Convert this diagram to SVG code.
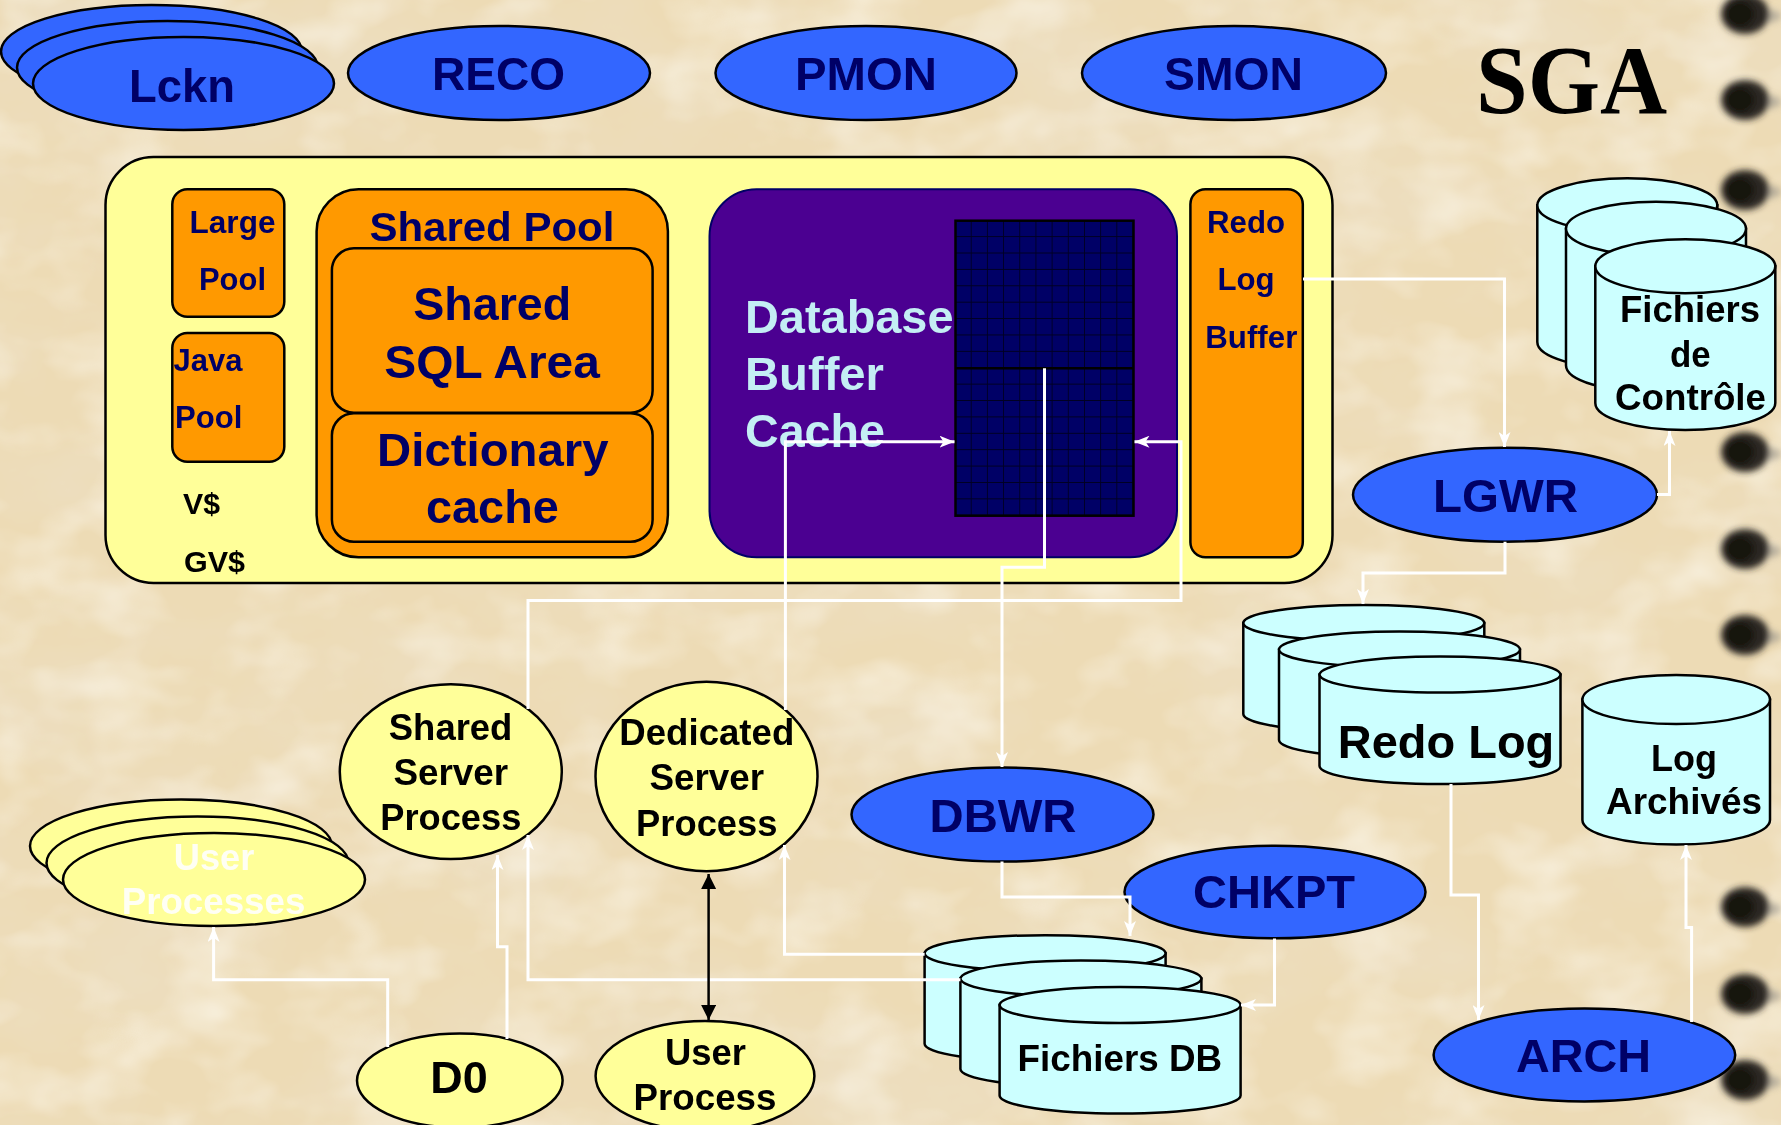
<svg xmlns="http://www.w3.org/2000/svg" width="1781" height="1125" viewBox="0 0 1781 1125">
  <defs>
    <style>
      .proc { fill: #3366ff; stroke: #000; stroke-width: 2.5; }
      .yel  { fill: #ffff99; stroke: #000; stroke-width: 2.5; }
      .org  { fill: #ff9900; stroke: #000; stroke-width: 2.5; }
      .cyl  { fill: #ccffff; stroke: #000; stroke-width: 2.5; }
      .t    { font-family: "Liberation Sans", Arial, sans-serif; font-weight: bold; }
      .ptxt { font-size: 47px; fill: #000066; text-anchor: middle; }
      .navy { fill: #000066; }
      .blk  { fill: #000; }
      .mid  { text-anchor: middle; }
      .wire { fill: none; stroke: #fff; stroke-width: 3; marker-end: url(#wa); }
      .hole { fill: #2c2824; }
      .core { fill: #141210; }
      .streak { fill: #9a948c; opacity: 0.6; }
    </style>
    <marker id="wa" viewBox="0 0 15 12" refX="15" refY="6" markerWidth="15" markerHeight="12" markerUnits="userSpaceOnUse" orient="auto">
      <path d="M0,0 L15,6 L0,12 L4,6 Z" fill="#fff"/>
    </marker>
    <marker id="ba" viewBox="0 0 15 15" refX="15" refY="7.5" markerWidth="15" markerHeight="15" markerUnits="userSpaceOnUse" orient="auto-start-reverse">
      <path d="M0,0 L15,7.5 L0,15 Z" fill="#000"/>
    </marker>
    <pattern id="cells" x="955.5" y="220.7" width="16.18" height="16.39" patternUnits="userSpaceOnUse">
      <rect width="16.18" height="16.39" fill="#000066"/>
      <path d="M16.18,0 V16.39 M0,16.39 H16.18" stroke="#000022" stroke-width="1.8" fill="none"/>
    </pattern>
    <filter id="paper" x="0" y="0" width="1781" height="1125" filterUnits="userSpaceOnUse">
      <feTurbulence type="fractalNoise" baseFrequency="0.005 0.008" numOctaves="5" seed="5" result="n"/>
      <feColorMatrix in="n" type="matrix" values="0 0 0 0 0.85  0 0 0 0 0.75  0 0 0 0 0.58  1.3 0 0 0 -0.52"/>
    </filter>
    <filter id="light" x="0" y="0" width="1781" height="1125" filterUnits="userSpaceOnUse">
      <feTurbulence type="fractalNoise" baseFrequency="0.012 0.018" numOctaves="3" seed="19" result="g"/>
      <feColorMatrix in="g" type="matrix" values="0 0 0 0 0.98  0 0 0 0 0.95  0 0 0 0 0.87  0 1.3 0 0 -0.58"/>
    </filter>
    <filter id="soft" x="-50%" y="-50%" width="200%" height="200%">
      <feGaussianBlur stdDeviation="3"/>
    </filter>
  </defs>

  <!-- parchment background -->
  <rect width="1781" height="1125" fill="#eddbb5"/>
  <rect width="1781" height="1125" filter="url(#paper)"/>
  <rect width="1781" height="1125" filter="url(#light)"/>

  <!-- binder holes along the right edge -->
  <g id="binder" filter="url(#soft)">
    <g transform="translate(0,14)"><ellipse class="streak" cx="1765" cy="2" rx="16" ry="7"/><ellipse class="hole" cx="1745" cy="0" rx="24" ry="20"/><ellipse class="core" cx="1740" cy="0" rx="14" ry="13"/></g>
    <g transform="translate(0,100)"><ellipse class="streak" cx="1765" cy="2" rx="16" ry="7"/><ellipse class="hole" cx="1745" cy="0" rx="24" ry="20"/><ellipse class="core" cx="1740" cy="0" rx="14" ry="13"/></g>
    <g transform="translate(0,190)"><ellipse class="streak" cx="1765" cy="2" rx="16" ry="7"/><ellipse class="hole" cx="1745" cy="0" rx="24" ry="20"/><ellipse class="core" cx="1740" cy="0" rx="14" ry="13"/></g>
    <g transform="translate(0,452)"><ellipse class="streak" cx="1765" cy="2" rx="16" ry="7"/><ellipse class="hole" cx="1745" cy="0" rx="24" ry="20"/><ellipse class="core" cx="1740" cy="0" rx="14" ry="13"/></g>
    <g transform="translate(0,549)"><ellipse class="streak" cx="1765" cy="2" rx="16" ry="7"/><ellipse class="hole" cx="1745" cy="0" rx="24" ry="20"/><ellipse class="core" cx="1740" cy="0" rx="14" ry="13"/></g>
    <g transform="translate(0,635)"><ellipse class="streak" cx="1765" cy="2" rx="16" ry="7"/><ellipse class="hole" cx="1745" cy="0" rx="24" ry="20"/><ellipse class="core" cx="1740" cy="0" rx="14" ry="13"/></g>
    <g transform="translate(0,907)"><ellipse class="streak" cx="1765" cy="2" rx="16" ry="7"/><ellipse class="hole" cx="1745" cy="0" rx="24" ry="20"/><ellipse class="core" cx="1740" cy="0" rx="14" ry="13"/></g>
    <g transform="translate(0,994)"><ellipse class="streak" cx="1765" cy="2" rx="16" ry="7"/><ellipse class="hole" cx="1745" cy="0" rx="24" ry="20"/><ellipse class="core" cx="1740" cy="0" rx="14" ry="13"/></g>
    <g transform="translate(0,1080)"><ellipse class="streak" cx="1765" cy="2" rx="16" ry="7"/><ellipse class="hole" cx="1745" cy="0" rx="24" ry="20"/><ellipse class="core" cx="1740" cy="0" rx="14" ry="13"/></g>
  </g>

  <!-- background processes -->
  <g id="lckn">
    <ellipse class="proc" cx="151.5" cy="51.5" rx="150.5" ry="46.5"/>
    <ellipse class="proc" cx="167.5" cy="67.5" rx="150.5" ry="46.5"/>
    <ellipse class="proc" cx="183.5" cy="83.5" rx="150.5" ry="46.5"/>
    <text class="t ptxt" x="182" y="102" textLength="106" lengthAdjust="spacingAndGlyphs">Lckn</text>
  </g>
  <g id="reco">
    <ellipse class="proc" cx="499" cy="73" rx="151" ry="47"/>
    <text class="t ptxt" x="498.5" y="90" textLength="133" lengthAdjust="spacingAndGlyphs">RECO</text>
  </g>
  <g id="pmon">
    <ellipse class="proc" cx="866" cy="73" rx="150.5" ry="47"/>
    <text class="t ptxt" x="866" y="90" textLength="142" lengthAdjust="spacingAndGlyphs">PMON</text>
  </g>
  <g id="smon">
    <ellipse class="proc" cx="1234" cy="73" rx="152" ry="47"/>
    <text class="t ptxt" x="1233.5" y="90" textLength="139" lengthAdjust="spacingAndGlyphs">SMON</text>
  </g>
  <g id="sga-title">
    <text x="1571.5" y="113" font-family="'Liberation Serif', 'Times New Roman', serif" font-weight="bold" font-size="98" text-anchor="middle" textLength="191" lengthAdjust="spacingAndGlyphs" fill="#000">SGA</text>
  </g>

  <!-- System Global Area -->
  <g id="sga">
    <rect class="yel" x="105.5" y="157" width="1227" height="426" rx="48"/>

    <g id="large-pool">
      <rect class="org" x="172.3" y="189.3" width="112" height="127.4" rx="15"/>
      <text class="t navy" x="189.5" y="233" font-size="31" textLength="86" lengthAdjust="spacingAndGlyphs">Large</text>
      <text class="t navy" x="199" y="290" font-size="31" textLength="67" lengthAdjust="spacingAndGlyphs">Pool</text>
    </g>
    <g id="java-pool">
      <rect class="org" x="172.3" y="333" width="112" height="128.7" rx="15"/>
      <text class="t navy" x="173.4" y="370.7" font-size="31" textLength="69" lengthAdjust="spacingAndGlyphs">Java</text>
      <text class="t navy" x="175" y="428" font-size="31" textLength="67.4" lengthAdjust="spacingAndGlyphs">Pool</text>
    </g>
    <g id="views">
      <text class="t blk" x="183" y="514" font-size="30" textLength="37" lengthAdjust="spacingAndGlyphs">V$</text>
      <text class="t blk" x="184" y="571.7" font-size="30" textLength="61" lengthAdjust="spacingAndGlyphs">GV$</text>
    </g>

    <g id="shared-pool">
      <rect class="org" x="316.6" y="189.3" width="351.3" height="368" rx="42"/>
      <text class="t navy mid" x="491.9" y="240.7" font-size="41" textLength="245" lengthAdjust="spacingAndGlyphs">Shared Pool</text>
      <rect class="org" x="331.9" y="248.3" width="320.7" height="164.4" rx="22"/>
      <text class="t navy mid" x="492.2" y="320" font-size="47" textLength="158" lengthAdjust="spacingAndGlyphs">Shared</text>
      <text class="t navy mid" x="492" y="378.3" font-size="47" textLength="215.5" lengthAdjust="spacingAndGlyphs">SQL Area</text>
      <rect class="org" x="331.9" y="413.3" width="320.7" height="128.4" rx="22"/>
      <text class="t navy mid" x="492.8" y="466" font-size="47" textLength="231.5" lengthAdjust="spacingAndGlyphs">Dictionary</text>
      <text class="t navy mid" x="492.4" y="522.7" font-size="47" textLength="132.8" lengthAdjust="spacingAndGlyphs">cache</text>
    </g>

    <g id="buffer-cache">
      <rect x="709.5" y="189.3" width="467.5" height="368" rx="47" fill="#4b0091" stroke="#000066" stroke-width="2"/>
      <text class="t" x="745" y="332.7" font-size="47" fill="#c4eef4" textLength="208.5" lengthAdjust="spacingAndGlyphs">Database</text>
      <text class="t" x="745" y="390" font-size="47" fill="#c4eef4" textLength="139" lengthAdjust="spacingAndGlyphs">Buffer</text>
      <text class="t" x="745" y="447.3" font-size="47" fill="#c4eef4" textLength="140" lengthAdjust="spacingAndGlyphs">Cache</text>
      <rect x="955.5" y="220.7" width="178" height="295" fill="url(#cells)" stroke="#000" stroke-width="2.5"/>
      <line x1="955.5" y1="368.3" x2="1133.5" y2="368.3" stroke="#000" stroke-width="2.5"/>
    </g>

    <g id="redo-buffer">
      <rect class="org" x="1190.4" y="189.3" width="112.4" height="368" rx="15"/>
      <text class="t navy" x="1207" y="233.3" font-size="31" textLength="78" lengthAdjust="spacingAndGlyphs">Redo</text>
      <text class="t navy" x="1217.4" y="290" font-size="31" textLength="57.2" lengthAdjust="spacingAndGlyphs">Log</text>
      <text class="t navy" x="1205.3" y="348.3" font-size="31" textLength="92" lengthAdjust="spacingAndGlyphs">Buffer</text>
    </g>
  </g>

  <!-- control files -->
  <g id="control-files">
    <path class="cyl" d="M1537.3,205.3 V342 A90,27 0 0 0 1717.3,342 V205.3 Z"/>
    <ellipse class="cyl" cx="1627.3" cy="205.3" rx="90" ry="27"/>
    <path class="cyl" d="M1566,228.7 V365.4 A90,27 0 0 0 1746,365.4 V228.7 Z"/>
    <ellipse class="cyl" cx="1656" cy="228.7" rx="90" ry="27"/>
    <path class="cyl" d="M1595.3,266.3 V403 A90,27 0 0 0 1775.3,403 V266.3 Z"/>
    <ellipse class="cyl" cx="1685.3" cy="266.3" rx="90" ry="27"/>
    <text class="t blk mid" x="1690" y="321.7" font-size="36" textLength="140" lengthAdjust="spacingAndGlyphs">Fichiers</text>
    <text class="t blk mid" x="1690.3" y="366.7" font-size="36" textLength="40.7" lengthAdjust="spacingAndGlyphs">de</text>
    <text class="t blk mid" x="1690.5" y="410" font-size="36" textLength="151" lengthAdjust="spacingAndGlyphs">Contrôle</text>
  </g>

  <g id="lgwr">
    <ellipse class="proc" cx="1505" cy="494.7" rx="152" ry="47"/>
    <text class="t ptxt" x="1505.5" y="511.7" textLength="145" lengthAdjust="spacingAndGlyphs">LGWR</text>
  </g>

  <!-- online redo logs -->
  <g id="redo-log">
    <path class="cyl" d="M1243.3,623 V714 A120.5,18 0 0 0 1484.3,714 V623 Z"/>
    <ellipse class="cyl" cx="1363.8" cy="623" rx="120.5" ry="18"/>
    <path class="cyl" d="M1279,649.4 V740 A120.5,18 0 0 0 1520,740 V649.4 Z"/>
    <ellipse class="cyl" cx="1399.5" cy="649.4" rx="120.5" ry="18"/>
    <path class="cyl" d="M1319.5,674.6 V766 A120.5,18 0 0 0 1560.5,766 V674.6 Z"/>
    <ellipse class="cyl" cx="1440" cy="674.6" rx="120.5" ry="18"/>
    <text class="t blk mid" x="1446" y="757.5" font-size="47" textLength="216.5" lengthAdjust="spacingAndGlyphs">Redo Log</text>
  </g>

  <!-- archived logs -->
  <g id="log-archives">
    <path class="cyl" d="M1582.4,699.5 V820 A93.8,24.6 0 0 0 1770,820 V699.5 Z"/>
    <ellipse class="cyl" cx="1676.2" cy="699.5" rx="93.8" ry="24.6"/>
    <text class="t blk mid" x="1684" y="770.8" font-size="36" textLength="66" lengthAdjust="spacingAndGlyphs">Log</text>
    <text class="t blk mid" x="1684" y="814" font-size="36" textLength="156" lengthAdjust="spacingAndGlyphs">Archivés</text>
  </g>

  <g id="arch">
    <ellipse class="proc" cx="1584.4" cy="1055" rx="150.8" ry="46.4"/>
    <text class="t ptxt" x="1583.5" y="1071.7" textLength="135" lengthAdjust="spacingAndGlyphs">ARCH</text>
  </g>

  <g id="dbwr">
    <ellipse class="proc" cx="1002.5" cy="814.6" rx="151" ry="47"/>
    <text class="t ptxt" x="1003" y="832" textLength="147" lengthAdjust="spacingAndGlyphs">DBWR</text>
  </g>

  <g id="chkpt">
    <ellipse class="proc" cx="1275" cy="892" rx="150.5" ry="46.3"/>
    <text class="t ptxt" x="1274" y="907.8" textLength="162" lengthAdjust="spacingAndGlyphs">CHKPT</text>
  </g>

  <!-- datafiles -->
  <g id="datafiles">
    <path class="cyl" d="M924.6,953.2 V1043.7 A120.5,18 0 0 0 1165.6,1043.7 V953.2 Z"/>
    <ellipse class="cyl" cx="1045.1" cy="953.2" rx="120.5" ry="18"/>
    <path class="cyl" d="M960.4,978.6 V1069 A120.5,18 0 0 0 1201.4,1069 V978.6 Z"/>
    <ellipse class="cyl" cx="1080.9" cy="978.6" rx="120.5" ry="18"/>
    <path class="cyl" d="M999.6,1005 V1095.5 A120.5,18 0 0 0 1240.6,1095.5 V1005 Z"/>
    <ellipse class="cyl" cx="1120.1" cy="1005" rx="120.5" ry="18"/>
    <text class="t blk mid" x="1119.8" y="1071" font-size="36" textLength="204.5" lengthAdjust="spacingAndGlyphs">Fichiers DB</text>
  </g>

  <!-- client and server processes -->
  <g id="user-processes">
    <ellipse class="yel" cx="181" cy="846" rx="151" ry="46.5"/>
    <ellipse class="yel" cx="197.5" cy="863" rx="151" ry="46.5"/>
    <ellipse class="yel" cx="214" cy="879.5" rx="151" ry="46.5"/>
    <text class="t mid" x="214" y="869.5" font-size="36" fill="#fffff4" textLength="80.5" lengthAdjust="spacingAndGlyphs">User</text>
    <text class="t mid" x="213.5" y="913.7" font-size="36" fill="#fffff4" textLength="183.7" lengthAdjust="spacingAndGlyphs">Processes</text>
  </g>

  <g id="shared-server">
    <ellipse class="yel" cx="450.8" cy="771.7" rx="111" ry="87.4"/>
    <text class="t blk mid" x="450.6" y="739.9" font-size="36" textLength="123.6" lengthAdjust="spacingAndGlyphs">Shared</text>
    <text class="t blk mid" x="450.8" y="785" font-size="36" textLength="114.8" lengthAdjust="spacingAndGlyphs">Server</text>
    <text class="t blk mid" x="450.8" y="830.3" font-size="36" textLength="141" lengthAdjust="spacingAndGlyphs">Process</text>
  </g>

  <g id="dedicated-server">
    <ellipse class="yel" cx="706.5" cy="776.5" rx="111" ry="94.7"/>
    <text class="t blk mid" x="706.8" y="745" font-size="36" textLength="175" lengthAdjust="spacingAndGlyphs">Dedicated</text>
    <text class="t blk mid" x="706.8" y="790.3" font-size="36" textLength="114.7" lengthAdjust="spacingAndGlyphs">Server</text>
    <text class="t blk mid" x="706.8" y="835.5" font-size="36" textLength="141.5" lengthAdjust="spacingAndGlyphs">Process</text>
  </g>

  <g id="user-process">
    <ellipse class="yel" cx="705" cy="1076" rx="109.4" ry="55"/>
    <text class="t blk mid" x="705.4" y="1064.9" font-size="36" textLength="81" lengthAdjust="spacingAndGlyphs">User</text>
    <text class="t blk mid" x="705" y="1110" font-size="36" textLength="142.9" lengthAdjust="spacingAndGlyphs">Process</text>
  </g>

  <g id="d0">
    <ellipse class="yel" cx="459.8" cy="1080.6" rx="102.8" ry="47"/>
    <text class="t blk mid" x="459" y="1092.7" font-size="45" textLength="57.4" lengthAdjust="spacingAndGlyphs">D0</text>
  </g>

  <!-- data flows -->
  <g id="connectors">
    <path class="wire" d="M1303,279 H1504.5 V447"/>
    <path class="wire" d="M1657,494.5 H1669.5 V431"/>
    <path class="wire" d="M1505,541.7 V573 H1363 V604"/>
    <path class="wire" d="M1451,784 V895 H1478.5 V1020"/>
    <path class="wire" d="M1691.6,1022 V927.6 H1686 V845"/>
    <path class="wire" d="M1274.5,938.4 V1005 H1241"/>
    <path class="wire" d="M1044.5,368.3 V567.3 H1002 V767"/>
    <path class="wire" d="M1002,861.5 V897 H1130 V936"/>
    <path class="wire" d="M924.6,954.3 H784.5 V845"/>
    <path class="wire" d="M960.4,979.7 H528 V835"/>
    <path class="wire" d="M528,709 V600.5 H1181 V441.7 H1134.5"/>
    <path class="wire" d="M785.4,710 V441.7 H954.5"/>
    <path class="wire" d="M507,1039 V946.7 H497.5 V855"/>
    <path class="wire" d="M387.7,1047 V979.7 H213.6 V927"/>
    <path d="M708.6,874 V1020" fill="none" stroke="#000" stroke-width="2.5" marker-start="url(#ba)" marker-end="url(#ba)"/>
  </g>
</svg>
